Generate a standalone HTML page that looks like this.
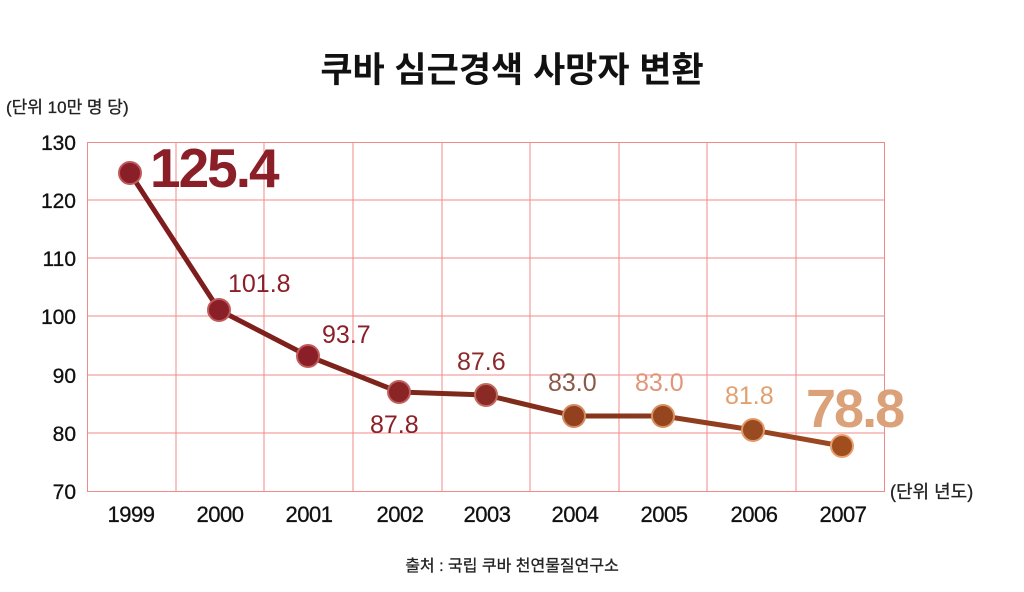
<!DOCTYPE html>
<html><head><meta charset="utf-8"><style>
body{margin:0;background:#fff;width:1024px;height:587px;overflow:hidden}
svg text{font-family:"Liberation Sans","Noto Sans CJK KR",sans-serif}
</style></head><body>
<svg width="1024" height="587" viewBox="0 0 1024 587" xmlns="http://www.w3.org/2000/svg">
<defs><linearGradient id="lg" x1="130" y1="0" x2="842" y2="0" gradientUnits="userSpaceOnUse">
<stop offset="0" stop-color="#7e1a1e"/><stop offset="0.5" stop-color="#7e2a1a"/><stop offset="1" stop-color="#9c4a22"/></linearGradient></defs>
<text x="512" y="82" text-anchor="middle" font-size="35" font-weight="bold" fill="#111">쿠바 심근경색 사망자 변환</text>
<text x="6" y="113" font-size="17" fill="#222" stroke="#222" stroke-width="0.3">(단위 10만 명 당)</text>
<g stroke="#f08a8a" stroke-width="1" fill="none">
<rect x="87.5" y="142.5" width="797" height="349"/>
<path d="M176 142V491M264 142V491M353 142V491M442 142V491M530 142V491M619 142V491M707 142V491M796 142V491"/>
<path d="M87 200H884M87 258H884M87 316H884M87 375H884M87 433H884"/>
</g>
<g font-size="21" fill="#111" text-anchor="end" stroke="#111" stroke-width="0.3">
<text x="76" y="150">130</text><text x="76" y="208">120</text><text x="76" y="266">110</text><text x="76" y="324">100</text><text x="76" y="383">90</text><text x="76" y="441">80</text><text x="76" y="499">70</text>
</g>
<g font-size="22" fill="#111" text-anchor="middle" letter-spacing="-0.5" stroke="#111" stroke-width="0.3">
<text x="131" y="522">1999</text><text x="220" y="522">2000</text><text x="309" y="522">2001</text><text x="400" y="522">2002</text><text x="487" y="522">2003</text><text x="575" y="522">2004</text><text x="664" y="522">2005</text><text x="754" y="522">2006</text><text x="843" y="522">2007</text>
</g>
<text x="890" y="498" font-size="18" fill="#222" stroke="#222" stroke-width="0.3">(단위 년도)</text>
<polyline points="130,173 219,310 308,356 399,392 486,395 574,416 663,416 753,430 842,446" fill="none" stroke="url(#lg)" stroke-width="5" stroke-linejoin="round"/>
<g stroke-width="2">
<circle cx="130" cy="173" r="11" fill="#8b1f27" stroke="#c05a5a"/>
<circle cx="219" cy="310" r="11" fill="#8b1f27" stroke="#c05a5a"/>
<circle cx="308" cy="356" r="11" fill="#8b1f27" stroke="#c05a5a"/>
<circle cx="399" cy="392" r="11" fill="#8b2525" stroke="#c06060"/>
<circle cx="486" cy="395" r="11" fill="#8b2a25" stroke="#c06a60"/>
<circle cx="574" cy="416" r="11" fill="#93401f" stroke="#d08a60"/>
<circle cx="663" cy="416" r="11" fill="#95461f" stroke="#d89060"/>
<circle cx="753" cy="430" r="11" fill="#9a4a20" stroke="#e09a6a"/>
<circle cx="842" cy="446" r="11" fill="#a04e1e" stroke="#e8a070"/>
</g>
<text x="150" y="187" font-size="55" font-weight="bold" letter-spacing="-2" fill="#8b1f27">125.4</text>
<text x="228" y="292" font-size="25" fill="#8b1f27">101.8</text>
<text x="322" y="343" font-size="25" fill="#8b1f27">93.7</text>
<text x="370" y="433" font-size="25" fill="#8b1f27">87.8</text>
<text x="457" y="370" font-size="25" fill="#8b2a2a">87.6</text>
<text x="548" y="391" font-size="25" fill="#8a5a48">83.0</text>
<text x="635" y="391" font-size="25" fill="#e0967a">83.0</text>
<text x="725" y="404" font-size="25" fill="#e0a070">81.8</text>
<text x="806" y="427" font-size="54" font-weight="bold" letter-spacing="-2" fill="#dba27a">78.8</text>
<text x="512" y="571" text-anchor="middle" font-size="16" fill="#222" stroke="#222" stroke-width="0.3">출처 : 국립 쿠바 천연물질연구소</text>
</svg>
</body></html>
